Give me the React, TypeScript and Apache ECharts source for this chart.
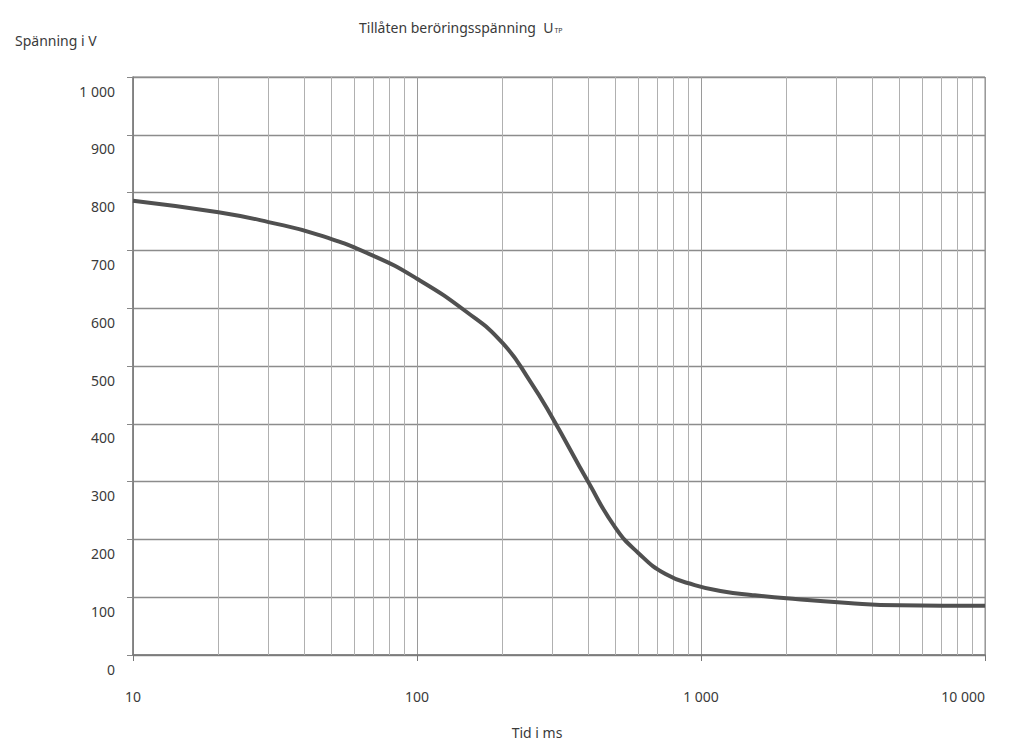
import React, { useEffect, useRef } from "react";
import * as echarts from "echarts";

// Curve: permissible touch voltage U_TP (V) versus time (ms)
const timesMs = [10, 20, 30, 45, 70, 100, 150, 200, 250, 300, 400, 500, 600, 750, 950, 1200, 1500, 2000, 3300, 5000, 10000];
const voltages = [786, 766, 749, 727, 691, 651, 593, 540, 474, 410, 300, 220, 177, 140, 121, 110, 104, 98, 90, 86, 85];

// Minor log grid lines (2..9 in each decade)
const minorGridX = [20, 30, 40, 50, 60, 70, 80, 90, 200, 300, 400, 500, 600, 700, 800, 900, 2000, 3000, 4000, 5000, 6000, 7000, 8000, 9000];

const xTickLabels: Record<number, string> = { 10: "10", 100: "100", 1000: "1 000", 10000: "10 000" };
const yTickLabels: Record<number, string> = { 0: "0", 100: "100", 200: "200", 300: "300", 400: "400", 500: "500", 600: "600", 700: "700", 800: "800", 900: "900", 1000: "1 000" };

const FONT = "'Noto Sans', sans-serif";
const TEXT = "#3a3a3a";

export default function App() {
  const ref = useRef<HTMLDivElement>(null);
  useEffect(() => {
    if (!ref.current) return;
    const chart = echarts.init(ref.current, null, { renderer: "svg" });
    chart.setOption({
      animation: false,
      backgroundColor: "#ffffff",
      textStyle: { fontFamily: FONT, color: TEXT },
      title: [
        {
          text: "Tillåten beröringsspänning  U{sub|TP}",
          left: 354,
          top: 15,
          textStyle: {
            fontFamily: FONT,
            fontSize: 14,
            fontWeight: "normal",
            color: TEXT,
            rich: {
              sub: { fontSize: 7, verticalAlign: "bottom", padding: [6, 0, 0, 1], fontFamily: FONT, color: TEXT },
            },
          },
        },
        {
          text: "Spänning i V",
          left: 10,
          top: 28,
          textStyle: { fontFamily: FONT, fontSize: 14, fontWeight: "normal", color: TEXT },
        },
      ],
      grid: {
        left: 133,
        right: 26,
        top: 77,
        bottom: 88,
        show: true,
        borderColor: "#8a8a8a",
        borderWidth: 1,
      },
      xAxis: {
        type: "log",
        logBase: 10,
        min: 10,
        max: 10000,
        name: "Tid i ms",
        nameLocation: "middle",
        nameGap: 70,
        nameTextStyle: { fontFamily: FONT, fontSize: 14, color: TEXT, padding: [0, 44, 0, 0] },
        axisLine: { show: true, lineStyle: { color: "#777", width: 1.5 } },
        axisTick: { show: true, length: 6, lineStyle: { color: "#777" } },
        axisLabel: {
          margin: 34,
          fontFamily: FONT,
          fontSize: 14,
          color: TEXT,
          alignMaxLabel: "right",
          formatter: (v: number) => xTickLabels[Math.round(v)] ?? "",
        },
        splitLine: { show: true, lineStyle: { color: "#9a9a9a", width: 1 } },
        minorTick: { show: false },
      },
      yAxis: {
        type: "value",
        min: 0,
        max: 1000,
        interval: 100,
        axisLine: { show: true, lineStyle: { color: "#777", width: 1.5 } },
        axisTick: { show: true, length: 6, lineStyle: { color: "#888" } },
        axisLabel: {
          margin: 18,
          fontFamily: FONT,
          fontSize: 14,
          color: TEXT,
          formatter: (v: number) => `{d|${yTickLabels[v] ?? String(v)}}`,
          rich: {
            d: { padding: [28, 0, 0, 0], fontFamily: FONT, fontSize: 14, color: TEXT },
          },
        },
        splitLine: { show: true, lineStyle: { color: "#8c8c8c", width: 1.3 } },
      },
      series: [
        {
          type: "line",
          data: timesMs.map((t, i) => [t, voltages[i]]),
          smooth: 0.5,
          showSymbol: false,
          symbol: "none",
          lineStyle: { color: "#505050", width: 4 },
          z: 5,
          markLine: {
            silent: true,
            symbol: "none",
            label: { show: false },
            lineStyle: { color: "#b0b0b0", width: 1, type: "solid" },
            data: minorGridX.map((x) => ({ xAxis: x })),
            z: 1,
          },
        },
      ],
    });
    return () => chart.dispose();
  }, []);
  return <div ref={ref} style={{ position: "fixed", left: 0, top: 0, width: 1011, height: 744 }} />;
}
